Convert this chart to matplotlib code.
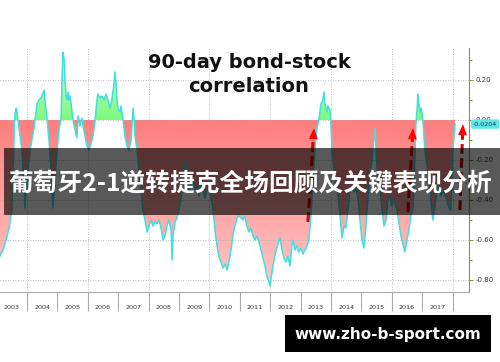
import numpy as np
import matplotlib
matplotlib.use("Agg")
import matplotlib.pyplot as plt
from matplotlib.colors import LinearSegmentedColormap
from matplotlib.patches import PathPatch, Rectangle
from matplotlib.path import Path

# 90-day bond/stock correlation (fractional year, value)
t = [2003.11, 2003.21, 2003.31, 2003.41, 2003.50, 2003.57, 2003.60, 2003.64, 2003.67, 2003.70,
     2003.77, 2003.83, 2003.90, 2003.93, 2003.97, 2004.03, 2004.10, 2004.16, 2004.23, 2004.26,
     2004.33, 2004.39, 2004.46, 2004.52, 2004.56, 2004.59, 2004.66, 2004.72, 2004.79, 2004.85,
     2004.92, 2004.99, 2005.05, 2005.12, 2005.15, 2005.18, 2005.22, 2005.25, 2005.28, 2005.31,
     2005.35, 2005.38, 2005.41, 2005.45, 2005.48, 2005.51, 2005.58, 2005.64, 2005.68, 2005.74,
     2005.81, 2005.84, 2005.91, 2005.97, 2006.04, 2006.10, 2006.17, 2006.24, 2006.30, 2006.33,
     2006.40, 2006.46, 2006.53, 2006.60, 2006.66, 2006.73, 2006.79, 2006.86, 2006.89, 2006.93,
     2006.96, 2006.99, 2007.06, 2007.09, 2007.16, 2007.22, 2007.29, 2007.35, 2007.42, 2007.45,
     2007.49, 2007.52, 2007.55, 2007.62, 2007.68, 2007.75, 2007.81, 2007.88, 2007.95, 2008.01,
     2008.08, 2008.14, 2008.21, 2008.28, 2008.34, 2008.41, 2008.47, 2008.54, 2008.60, 2008.67,
     2008.74, 2008.77, 2008.80, 2008.87, 2008.93, 2009.00, 2009.06, 2009.13, 2009.20, 2009.26,
     2009.33, 2009.39, 2009.46, 2009.53, 2009.59, 2009.66, 2009.72, 2009.79, 2009.85, 2009.92,
     2009.99, 2010.05, 2010.12, 2010.18, 2010.25, 2010.31, 2010.38, 2010.45, 2010.51, 2010.58,
     2010.64, 2010.71, 2010.77, 2010.84, 2010.91, 2010.97, 2011.04, 2011.10, 2011.17, 2011.23,
     2011.30, 2011.37, 2011.43, 2011.50, 2011.56, 2011.63, 2011.70, 2011.76, 2011.83, 2011.89,
     2011.96, 2011.99, 2012.02, 2012.09, 2012.15, 2012.22, 2012.29, 2012.32, 2012.39, 2012.45,
     2012.52, 2012.58, 2012.65, 2012.71, 2012.75, 2012.81, 2012.88, 2012.94, 2013.01, 2013.08,
     2013.14, 2013.21, 2013.27, 2013.34, 2013.41, 2013.47, 2013.54, 2013.60, 2013.67, 2013.73,
     2013.77, 2013.80, 2013.87, 2013.90, 2013.97, 2014.00, 2014.03, 2014.10, 2014.16, 2014.23,
     2014.30, 2014.36, 2014.43, 2014.49, 2014.56, 2014.62, 2014.69, 2014.76, 2014.82, 2014.89,
     2014.95, 2015.02, 2015.08, 2015.15, 2015.21, 2015.28, 2015.35, 2015.41, 2015.45, 2015.48,
     2015.54, 2015.61, 2015.67, 2015.74, 2015.81, 2015.87, 2015.94, 2016.00, 2016.07, 2016.14,
     2016.20, 2016.27, 2016.33, 2016.40, 2016.43, 2016.50, 2016.56, 2016.63, 2016.70, 2016.76,
     2016.79, 2016.83, 2016.86, 2016.89, 2016.93, 2016.96, 2016.99, 2017.02, 2017.09, 2017.16,
     2017.22, 2017.29, 2017.35, 2017.42, 2017.48, 2017.55, 2017.62, 2017.68, 2017.75, 2017.81,
     2017.88, 2017.94, 2017.98, 2018.01, 2018.08]

corr = [-0.68, -0.65, -0.60, -0.54, -0.45, -0.10, 0.03, 0.06, 0.04, 0.00,
        -0.08, -0.15, -0.33, -0.44, -0.35, -0.25, -0.15, -0.10, -0.04, 0.00,
        0.08, 0.10, 0.11, 0.13, 0.15, 0.10, 0.00, -0.10, -0.25, -0.44,
        -0.30, -0.15, -0.05, 0.01, 0.20, 0.34, 0.30, 0.20, 0.13, 0.10,
        0.14, 0.10, 0.12, 0.08, 0.04, 0.00, -0.05, -0.09, 0.02, -0.03,
        0.01, -0.03, -0.08, -0.13, -0.15, -0.12, -0.08, 0.00, 0.10, 0.13,
        0.11, 0.12, 0.10, 0.13, 0.10, 0.06, 0.10, 0.18, 0.24, 0.18,
        0.10, 0.06, 0.04, 0.07, 0.00, -0.08, -0.13, -0.15, -0.10, -0.03,
        0.06, 0.00, -0.08, -0.15, -0.25, -0.35, -0.45, -0.50, -0.56, -0.53,
        -0.50, -0.53, -0.51, -0.52, -0.50, -0.54, -0.60, -0.58, -0.53, -0.50,
        -0.55, -0.70, -0.58, -0.51, -0.49, -0.45, -0.40, -0.33, -0.20, -0.28,
        -0.35, -0.33, -0.30, -0.35, -0.33, -0.38, -0.31, -0.35, -0.39, -0.35,
        -0.33, -0.38, -0.45, -0.55, -0.63, -0.68, -0.71, -0.74, -0.72, -0.75,
        -0.71, -0.65, -0.58, -0.53, -0.49, -0.48, -0.49, -0.50, -0.48, -0.53,
        -0.56, -0.54, -0.58, -0.60, -0.58, -0.61, -0.65, -0.69, -0.73, -0.78,
        -0.81, -0.83, -0.80, -0.73, -0.68, -0.64, -0.60, -0.59, -0.65, -0.69,
        -0.71, -0.68, -0.73, -0.63, -0.60, -0.65, -0.63, -0.66, -0.64, -0.67,
        -0.65, -0.63, -0.60, -0.48, -0.30, -0.15, -0.04, 0.00, 0.08, 0.10,
        0.14, 0.08, 0.04, 0.07, 0.05, -0.03, -0.15, -0.25, -0.33, -0.38,
        -0.48, -0.59, -0.53, -0.54, -0.45, -0.35, -0.33, -0.36, -0.34, -0.40,
        -0.50, -0.60, -0.64, -0.53, -0.40, -0.28, -0.20, -0.10, -0.04, -0.15,
        -0.30, -0.35, -0.43, -0.53, -0.50, -0.40, -0.38, -0.43, -0.40, -0.43,
        -0.48, -0.55, -0.60, -0.64, -0.66, -0.60, -0.55, -0.48, -0.44, -0.20,
        -0.03, 0.05, 0.13, 0.08, 0.04, 0.06, 0.04, 0.00, -0.15, -0.23,
        -0.29, -0.40, -0.50, -0.43, -0.35, -0.33, -0.38, -0.35, -0.38, -0.40,
        -0.44, -0.45, -0.30, -0.15, -0.02]

years = list(range(2003, 2018))
yticks = [0.20, 0.00, -0.20, -0.40, -0.60, -0.80]
last_value = -0.0204
# red arrows: (tail, tip) in (year, value)
arrow_tails = [(2013.24, -0.51), (2016.53, -0.46), (2018.24, -0.45)]
arrow_tips = [(2013.44, -0.04), (2016.70, -0.04), (2018.34, -0.02)]

title_lines = ["90-day bond-stock", "correlation"]
banner_text = "葡萄牙2-1逆转捷克全场回顾及关键表现分析"
site_text = "www.zho-b-sport.com"

t = np.array(t)
corr = np.array(corr)

fig = plt.figure(figsize=(5.0, 3.62), dpi=100)
ax = fig.add_axes([0, 70 / 362, 469 / 500, 244 / 362])
x0, x1 = 2003.11, 2018.54
y0, y1 = -0.86, 0.36


def gradient_fill(where, c_near, c_far, lo, hi, near_at_top):
    poly = ax.fill_between(t, corr, 0, where=where, interpolate=True,
                           color="none", lw=0)
    path = Path.make_compound_path(*poly.get_paths())
    patch = PathPatch(path, transform=ax.transData, fc="none", ec="none")
    ax.add_patch(patch)
    cmap = LinearSegmentedColormap.from_list("g", [c_near, c_far])
    grad = np.linspace(0, 1, 256).reshape(-1, 1)
    if near_at_top:
        grad = grad[::-1]
    img = ax.imshow(grad, cmap=cmap, aspect="auto", origin="lower",
                    extent=[x0, x1, lo, hi], zorder=1, interpolation="bilinear")
    img.set_clip_path(patch)


gradient_fill(corr <= 0, "#ff7d7d", "#ffcaca", y0, 0, True)
gradient_fill(corr >= 0, "#7dfa7d", "#d8ffd8", 0, y1, False)

ax.plot(t, corr, color="#3ee0e0", lw=1.1, zorder=3)

# grid
ax.grid(axis="y", which="major", ls=(0, (1, 2)), color="#aaaaaa", lw=0.6)
for yr in range(2004, 2019, 2):
    ax.axvline(yr, ls=(0, (1, 2)), color="#aaaaaa", lw=0.6, zorder=0.5)

ax.set_xlim(x0, x1)
ax.set_ylim(y0, y1)

# x axis: year separators + centred labels
ax.set_xticks(range(2004, 2019))
ax.set_xticklabels([])
ax.set_xticks([y + 0.5 for y in years], minor=True)
ax.set_xticklabels([str(y) for y in years], minor=True)
ax.tick_params(axis="x", which="major", length=14, color="#aaaaaa", width=0.8)
ax.tick_params(axis="x", which="minor", length=0, pad=9.5, labelsize=4.6,
               labelcolor="#333333")

# right value axis
ax.yaxis.tick_right()
ax.set_yticks(yticks)
ax.set_yticklabels(["%.2f" % v for v in yticks])
ax.set_yticks([-0.7, -0.5, -0.3, -0.1, 0.1, 0.3], minor=True)
ax.tick_params(axis="y", which="both", direction="out", color="#7a9a3a",
               labelcolor="#444444", labelsize=5, pad=1.5, width=0.8)
ax.tick_params(axis="y", which="major", length=3)
ax.tick_params(axis="y", which="minor", length=2)

ax.spines["left"].set_visible(False)
ax.spines["top"].set_visible(False)
ax.spines["right"].set_color("#7a9a3a")
ax.spines["bottom"].set_color("#aaaaaa")
ax.spines["bottom"].set_linewidth(0.8)

ax.annotate("%.4f" % last_value, xy=(1.0, last_value),
            xycoords=("axes fraction", "data"), xytext=(3, 0),
            textcoords="offset points", va="center", ha="left",
            fontsize=4.6, color="#1a3050",
            bbox=dict(boxstyle="round,pad=0.35", fc="#5ee8ea", ec="none"),
            annotation_clip=False, zorder=6)

# red dashed arrows
fig.canvas.draw()
for tail, tip in zip(arrow_tails, arrow_tips):
    p0 = ax.transData.transform(tail)
    p1 = ax.transData.transform(tip)
    d = (p1 - p0) / np.hypot(*(p1 - p0))
    base = ax.transData.inverted().transform(p1 - d * 11)
    ax.plot([tail[0], base[0]], [tail[1], base[1]], color="#dd0000", lw=2.2,
            dashes=(3.2, 1.4), solid_capstyle="butt", zorder=5, clip_on=False)
    ax.annotate("", xy=tip, xytext=base,
                arrowprops=dict(arrowstyle="-|>,head_length=0.8,head_width=0.32",
                                color="#ff0000", lw=0, shrinkA=0, shrinkB=0,
                                mutation_scale=10),
                annotation_clip=False, zorder=5)

# title
fig.text(0.498, 1 - 62 / 362, title_lines[0], ha="center", va="center",
         fontsize=14, fontweight="bold", color="#111111")
fig.text(0.498, 1 - 86 / 362, title_lines[1], ha="center", va="center",
         fontsize=14, fontweight="bold", color="#111111")

# overlay banner
fig.patches.append(Rectangle((4 / 500, 1 - 215 / 362), 496 / 500, 67 / 362,
                             transform=fig.transFigure, fc="black", alpha=0.65,
                             ec="none", zorder=10))
fig.text(0.5, 1 - 184 / 362, banner_text, ha="center", va="center",
         fontsize=17.8, fontweight="bold", color="white",
         family=["Noto Sans CJK SC", "DejaVu Sans"], zorder=11)

# site box
fig.patches.append(Rectangle((285 / 500, 1 - 352 / 362), 206 / 500, 37 / 362,
                             transform=fig.transFigure, fc="black", ec="none",
                             zorder=10))
fig.text(388 / 500, 1 - 334 / 362, site_text, ha="center", va="center",
         fontsize=11, fontweight="bold", color="white", zorder=11)

fig.savefig("out.png", dpi=100)
